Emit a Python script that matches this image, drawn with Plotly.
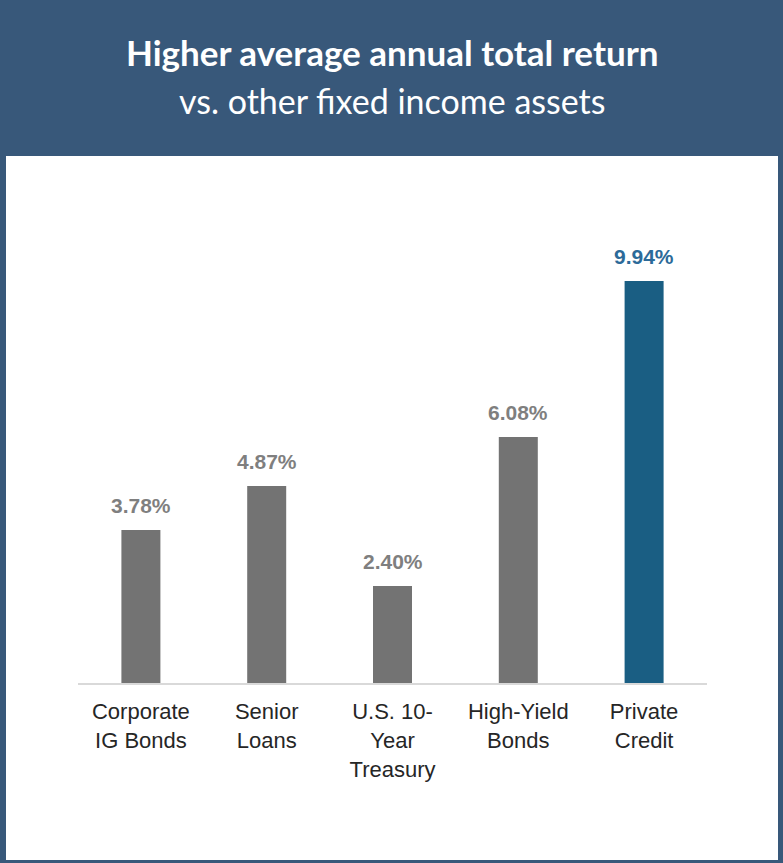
import plotly.graph_objects as go

categories = ["Corporate<br>IG Bonds", "Senior<br>Loans", "U.S. 10-<br>Year<br>Treasury",
              "High-Yield<br>Bonds", "Private<br>Credit"]
returns = [3.78, 4.87, 2.40, 6.08, 9.94]
labels = ["3.78%", "4.87%", "2.40%", "6.08%", "9.94%"]
bar_colors = ["#737373", "#737373", "#737373", "#737373", "#1A5E83"]
label_colors = ["#7F7F7F", "#7F7F7F", "#7F7F7F", "#7F7F7F", "#2C6A99"]

title_line1 = "Higher average annual total return"
title_line2 = "vs. other fixed income assets"

W, H = 783, 863
L, R, T, B = 78, 76, 238, 180
PW, PH = W - L - R, H - T - B

def px_x(x):
    return (x - L) / PW

def px_y(y):
    return (H - B - y) / PH

HEADER = "#38587A"

fig = go.Figure()
fig.add_trace(go.Bar(
    x=categories, y=returns,
    marker=dict(color=bar_colors, line=dict(width=0)),
    hoverinfo="skip",
))

for c, v, t, col in zip(categories, returns, labels, label_colors):
    fig.add_annotation(x=c, y=v, text=f"<b>{t}</b>", showarrow=False,
                       yanchor="bottom", yshift=11,
                       font=dict(family="Liberation Sans, Arial", size=21, color=col))

fig.add_annotation(xref="paper", yref="paper", x=px_x(W / 2), y=px_y(52),
                   text=f"<b>{title_line1}</b>", showarrow=False,
                   xanchor="center", yanchor="middle",
                   font=dict(family="Lato", size=35, color="white"))
fig.add_annotation(xref="paper", yref="paper", x=px_x(W / 2), y=px_y(101),
                   text=title_line2, showarrow=False,
                   xanchor="center", yanchor="middle",
                   font=dict(family="Lato", size=34, color="white"))

fig.add_shape(type="rect", xref="paper", yref="paper", layer="below",
              x0=px_x(6), x1=px_x(778), y0=px_y(860), y1=px_y(156),
              fillcolor="white", line=dict(width=0))

fig.update_layout(
    width=W, height=H,
    margin=dict(l=L, r=R, t=T, b=B, pad=0),
    paper_bgcolor=HEADER,
    plot_bgcolor="rgba(0,0,0,0)",
    bargap=0.69,
    showlegend=False,
    xaxis=dict(range=[-0.5, 4.5], showline=True, linecolor="#D9D9D9", linewidth=2,
               showgrid=False, zeroline=False, ticks="", ticklabelstandoff=8,
               tickfont=dict(family="Liberation Sans, Arial", size=22, color="#262626")),
    yaxis=dict(range=[0, 11], visible=False, showgrid=False, zeroline=False),
)

fig.write_html("out.html", config={"displayModeBar": False})
